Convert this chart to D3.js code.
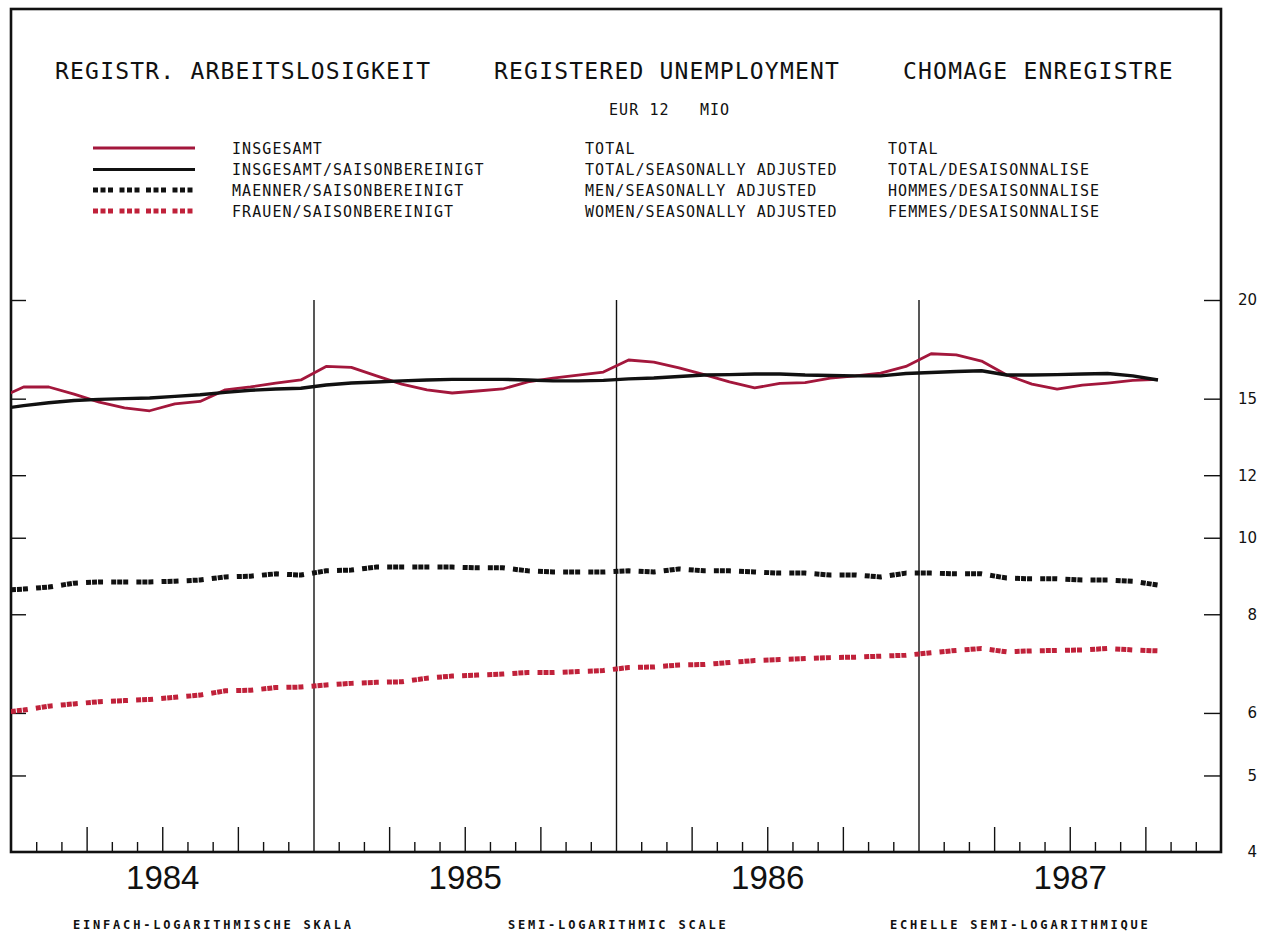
<!DOCTYPE html>
<html>
<head>
<meta charset="utf-8">
<title>Registered unemployment EUR 12</title>
<script src="https://cdn.jsdelivr.net/npm/d3@7"></script>
<style>
  body { margin: 0; background: #fff; }
  svg { display: block; }
  .mono { font-family: "DejaVu Sans Mono", monospace; fill: #111; }
</style>
</head>
<body>
<svg id="chart" width="1267" height="932"></svg>
<script>
// monthly data, Dec 1983 .. Oct 1987 (millions)
const months = [
  "1983-12",
  "1984-01","1984-02","1984-03","1984-04","1984-05","1984-06","1984-07","1984-08","1984-09","1984-10","1984-11","1984-12",
  "1985-01","1985-02","1985-03","1985-04","1985-05","1985-06","1985-07","1985-08","1985-09","1985-10","1985-11","1985-12",
  "1986-01","1986-02","1986-03","1986-04","1986-05","1986-06","1986-07","1986-08","1986-09","1986-10","1986-11","1986-12",
  "1987-01","1987-02","1987-03","1987-04","1987-05","1987-06","1987-07","1987-08","1987-09","1987-10"
];
const total = [15.0,
  15.52,15.52,15.2,14.85,14.6,14.48,14.77,14.88,15.39,15.52,15.70,15.84,
  16.48,16.43,16.03,15.65,15.39,15.25,15.34,15.43,15.75,15.93,16.07,16.21,
  16.79,16.69,16.41,16.09,15.75,15.48,15.68,15.72,15.93,16.03,16.16,16.48,
  17.1,17.04,16.74,16.07,15.65,15.42,15.6,15.7,15.82,15.87];
const totalSA = [14.55,
  14.7,14.82,14.92,14.97,15.0,15.03,15.1,15.17,15.28,15.37,15.43,15.46,
  15.61,15.70,15.75,15.80,15.84,15.87,15.87,15.87,15.84,15.80,15.80,15.82,
  15.89,15.93,16.0,16.07,16.09,16.12,16.12,16.07,16.05,16.03,16.03,16.14,
  16.19,16.24,16.27,16.07,16.07,16.09,16.12,16.14,16.03,15.84];
const menSA = [8.58,
  8.61,8.66,8.76,8.79,8.79,8.79,8.81,8.84,8.92,8.94,9.0,8.97,
  9.08,9.10,9.18,9.18,9.18,9.18,9.16,9.16,9.08,9.05,9.05,9.05,
  9.08,9.05,9.13,9.08,9.08,9.05,9.02,9.02,8.97,8.97,8.92,9.02,
  9.02,9.0,9.0,8.89,8.87,8.87,8.84,8.84,8.81,8.71];
const womenSA = [6.0,
  6.05,6.12,6.16,6.20,6.22,6.24,6.28,6.32,6.40,6.41,6.46,6.47,
  6.51,6.54,6.56,6.57,6.64,6.68,6.70,6.72,6.75,6.75,6.77,6.79,
  6.85,6.86,6.90,6.91,6.95,6.99,7.01,7.03,7.05,7.06,7.08,7.10,
  7.15,7.20,7.24,7.17,7.19,7.20,7.21,7.24,7.21,7.19];

const years = ["1984", "1985", "1986", "1987"];
const yTicks = [4, 5, 6, 8, 10, 12, 15, 20];

const titles = ["REGISTR. ARBEITSLOSIGKEIT", "REGISTERED UNEMPLOYMENT", "CHOMAGE ENREGISTRE"];
const subtitle = "EUR 12   MIO";
const legendDE = ["INSGESAMT", "INSGESAMT/SAISONBEREINIGT", "MAENNER/SAISONBEREINIGT", "FRAUEN/SAISONBEREINIGT"];
const legendEN = ["TOTAL", "TOTAL/SEASONALLY ADJUSTED", "MEN/SEASONALLY ADJUSTED", "WOMEN/SEASONALLY ADJUSTED"];
const legendFR = ["TOTAL", "TOTAL/DESAISONNALISE", "HOMMES/DESAISONNALISE", "FEMMES/DESAISONNALISE"];
const footer = ["EINFACH-LOGARITHMISCHE SKALA", "SEMI-LOGARITHMIC SCALE", "ECHELLE SEMI-LOGARITHMIQUE"];

// styles
const RED = "#a3173c";
const styles = [
  { stroke: RED, width: 2.8, dash: null, legendDash: null },
  { stroke: "#111", width: 3.4, dash: null, legendDash: null },
  { stroke: "#111", width: 5, dash: "5,1,5,1,5,8.17", legendDash: "5,2.5,5,2.5,5,6.5" },
  { stroke: "#c0213a", width: 5, dash: "5,1,5,1,5,8.17", legendDash: "5,2.5,5,2.5,5,6.5" }
];
const series = [total, totalSA, menSA, womenSA];

const svg = d3.select("#chart");
const plotL = 11, plotR = 1221, plotT = 9, plotB = 852, yTop = 300;

// month index scale: 0 = Jan 1984, 48 = Jan 1988
const x = d3.scaleLinear().domain([0, 48]).range([plotL, plotR]);
const y = d3.scaleLog().domain([4, 20]).range([plotB, yTop]);

const monthPos = months.map(m => {
  const [yy, mm] = m.split("-").map(Number);
  return (yy - 1984) * 12 + (mm - 1) + 0.5;
});

svg.append("defs").append("clipPath").attr("id", "plot")
  .append("rect").attr("x", plotL).attr("y", plotT).attr("width", plotR - plotL).attr("height", plotB - plotT);

// frame
svg.append("rect")
  .attr("x", plotL).attr("y", plotT)
  .attr("width", plotR - plotL).attr("height", plotB - plotT)
  .attr("fill", "none").attr("stroke", "#111").attr("stroke-width", 2.6);

// titles
const titleX = [55, 494, 903];
titles.forEach((t, i) => {
  svg.append("text").attr("class", "mono")
    .attr("x", titleX[i]).attr("y", 79)
    .attr("font-size", 23).attr("letter-spacing", 1.2)
    .text(t);
});
svg.append("text").attr("class", "mono")
  .attr("x", 609).attr("y", 115)
  .attr("font-size", 15).attr("letter-spacing", 1.07)
  .style("white-space", "pre")
  .text(subtitle);

// legend
const legendY = [148, 169.5, 190, 211];
legendDE.forEach((t, i) => {
  const st = styles[i];
  svg.append("line")
    .attr("x1", 93).attr("x2", 195)
    .attr("y1", legendY[i]).attr("y2", legendY[i])
    .attr("stroke", st.stroke).attr("stroke-width", st.dash ? 5 : 3)
    .attr("stroke-dasharray", st.legendDash);
  [[232, t], [585, legendEN[i]], [888, legendFR[i]]].forEach(([lx, txt]) => {
    svg.append("text").attr("class", "mono")
      .attr("x", lx).attr("y", legendY[i] + 5.5)
      .attr("font-size", 15).attr("letter-spacing", 1.07)
      .text(txt);
  });
});

// year separator lines
const yearLines = svg.append("g").attr("transform", `translate(0,${plotB})`)
  .call(d3.axisBottom(x).tickValues([12, 24, 36]).tickSize(-(plotB - yTop)).tickFormat(""));
yearLines.select(".domain").remove();
yearLines.selectAll("line").attr("stroke", "#111").attr("stroke-width", 1.4);

// monthly and quarterly ticks
const minor = d3.range(1, 48).filter(k => k % 12 !== 0 && k % 3 !== 0);
const quarter = d3.range(1, 48).filter(k => k % 12 !== 0 && k % 3 === 0);
[[minor, 10], [quarter, 25]].forEach(([vals, len]) => {
  const g = svg.append("g").attr("transform", `translate(0,${plotB})`)
    .call(d3.axisBottom(x).tickValues(vals).tickSize(-len).tickFormat(""));
  g.select(".domain").remove();
  g.selectAll("line").attr("stroke", "#111").attr("stroke-width", 1.4);
});

// year labels
const yearAxis = svg.append("g").attr("transform", `translate(0,${plotB})`)
  .call(d3.axisBottom(x).tickValues([6, 18, 30, 42]).tickSize(0).tickPadding(14)
    .tickFormat((d, i) => years[i]));
yearAxis.select(".domain").remove();
yearAxis.selectAll("text")
  .attr("font-family", "'Liberation Sans', Arial, sans-serif")
  .attr("font-size", 33).attr("fill", "#111");

// y ticks right and left
const rightTicks = svg.append("g").attr("transform", `translate(${plotR},0)`)
  .call(d3.axisRight(y).tickValues(yTicks.slice(1)).tickSize(-17).tickFormat(""));
rightTicks.select(".domain").remove();
rightTicks.selectAll("line").attr("stroke", "#111").attr("stroke-width", 1.4);

const leftTicks = svg.append("g").attr("transform", `translate(${plotL},0)`)
  .call(d3.axisLeft(y).tickValues(yTicks.slice(1)).tickSize(-15).tickFormat(""));
leftTicks.select(".domain").remove();
leftTicks.selectAll("line").attr("stroke", "#111").attr("stroke-width", 1.4);

const yLabels = svg.append("g").attr("transform", `translate(${plotR},0)`)
  .call(d3.axisRight(y).tickValues(yTicks).tickSize(0).tickFormat(d3.format("d")));
yLabels.select(".domain").remove();
yLabels.selectAll("text")
  .attr("x", 36).attr("text-anchor", "end")
  .attr("font-family", "'DejaVu Sans', sans-serif")
  .attr("font-size", 15).attr("fill", "#111");

// data lines
const line = d3.line().x((d, i) => x(monthPos[i])).y(d => y(d));
const plot = svg.append("g").attr("clip-path", "url(#plot)");
[3, 2, 0, 1].forEach(i => {
  const st = styles[i];
  plot.append("path")
    .datum(series[i])
    .attr("d", line)
    .attr("fill", "none")
    .attr("stroke", st.stroke)
    .attr("stroke-width", st.width)
    .attr("stroke-linejoin", "round")
    .attr("stroke-dasharray", st.dash)
    .attr("stroke-dashoffset", st.dash ? 12.6 : null);
});

// footer
const footX = [73, 508, 890];
footer.forEach((t, i) => {
  svg.append("text").attr("class", "mono")
    .attr("x", footX[i]).attr("y", 929)
    .attr("font-size", 12).attr("font-weight", "bold").attr("letter-spacing", 2.8)
    .text(t);
});
</script>
</body>
</html>
